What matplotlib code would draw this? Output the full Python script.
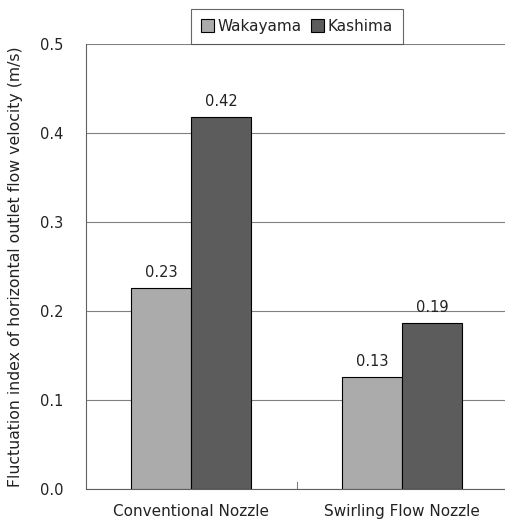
import numpy as np
import matplotlib
matplotlib.use('Agg')
from matplotlib import pyplot as plt

plt.rcParams['font.family'] = ['DejaVu Sans']

categories = ['Conventional Nozzle', 'Swirling Flow Nozzle']
wakayama = [0.226, 0.126]
kashima = [0.418, 0.187]
yticks = [0.0, 0.1, 0.2, 0.3, 0.4, 0.5]

fig = plt.figure(figsize=(5.05, 5.23), dpi=100)
ax = fig.add_axes([0.170, 0.065, 0.835, 0.851])

x = np.arange(len(categories))
w = 0.285
b1 = ax.bar(x - w / 2, wakayama, w, color='#ababab', edgecolor='black', linewidth=0.8, label='Wakayama', zorder=3)
b2 = ax.bar(x + w / 2, kashima, w, color='#5c5c5c', edgecolor='black', linewidth=0.8, label='Kashima', zorder=3)

for bars in (b1, b2):
    for r in bars:
        ax.text(r.get_x() + r.get_width() / 2, r.get_height() + 0.009, '%.2f' % r.get_height(),
                ha='center', va='bottom', fontsize=10.5, color='#222222')

ax.set_xlim(-0.5, 1.5)
ax.set_ylim(0, 0.5)
ax.set_yticks(yticks)
ax.set_yticklabels(['%.1f' % t for t in yticks])
ax.yaxis.grid(True, color='#808080', linewidth=0.8, zorder=0)
ax.set_xticks(x)
ax.set_xticklabels(categories)
ax.tick_params(axis='x', length=0, pad=11, labelsize=11, labelcolor='#222222')
ax.tick_params(axis='y', length=0, pad=16, labelsize=10.5, labelcolor='#222222')
# small separator tick between the two groups
ax.plot([0.5, 0.5], [0, 0.008], color='#808080', linewidth=0.8, zorder=2)

for s in ['top', 'right']:
    ax.spines[s].set_visible(False)
ax.spines['left'].set_color('#606060')
ax.spines['bottom'].set_color('#606060')

ax.set_ylabel('Fluctuation index of horizontal outlet flow velocity (m/s)', fontsize=11.3,
              labelpad=12, color='#222222')

leg = ax.legend(loc='lower center', bbox_to_anchor=(0.5, 1.0), ncol=2, fontsize=11,
                frameon=True, fancybox=False, edgecolor='#404040', handlelength=0.9,
                handleheight=0.9, handletextpad=0.2, columnspacing=0.6, borderpad=0.65,
                borderaxespad=0.0)
leg.get_frame().set_linewidth(0.8)
for t in leg.get_texts():
    t.set_color('#222222')

fig.savefig('out.png', dpi=100)
